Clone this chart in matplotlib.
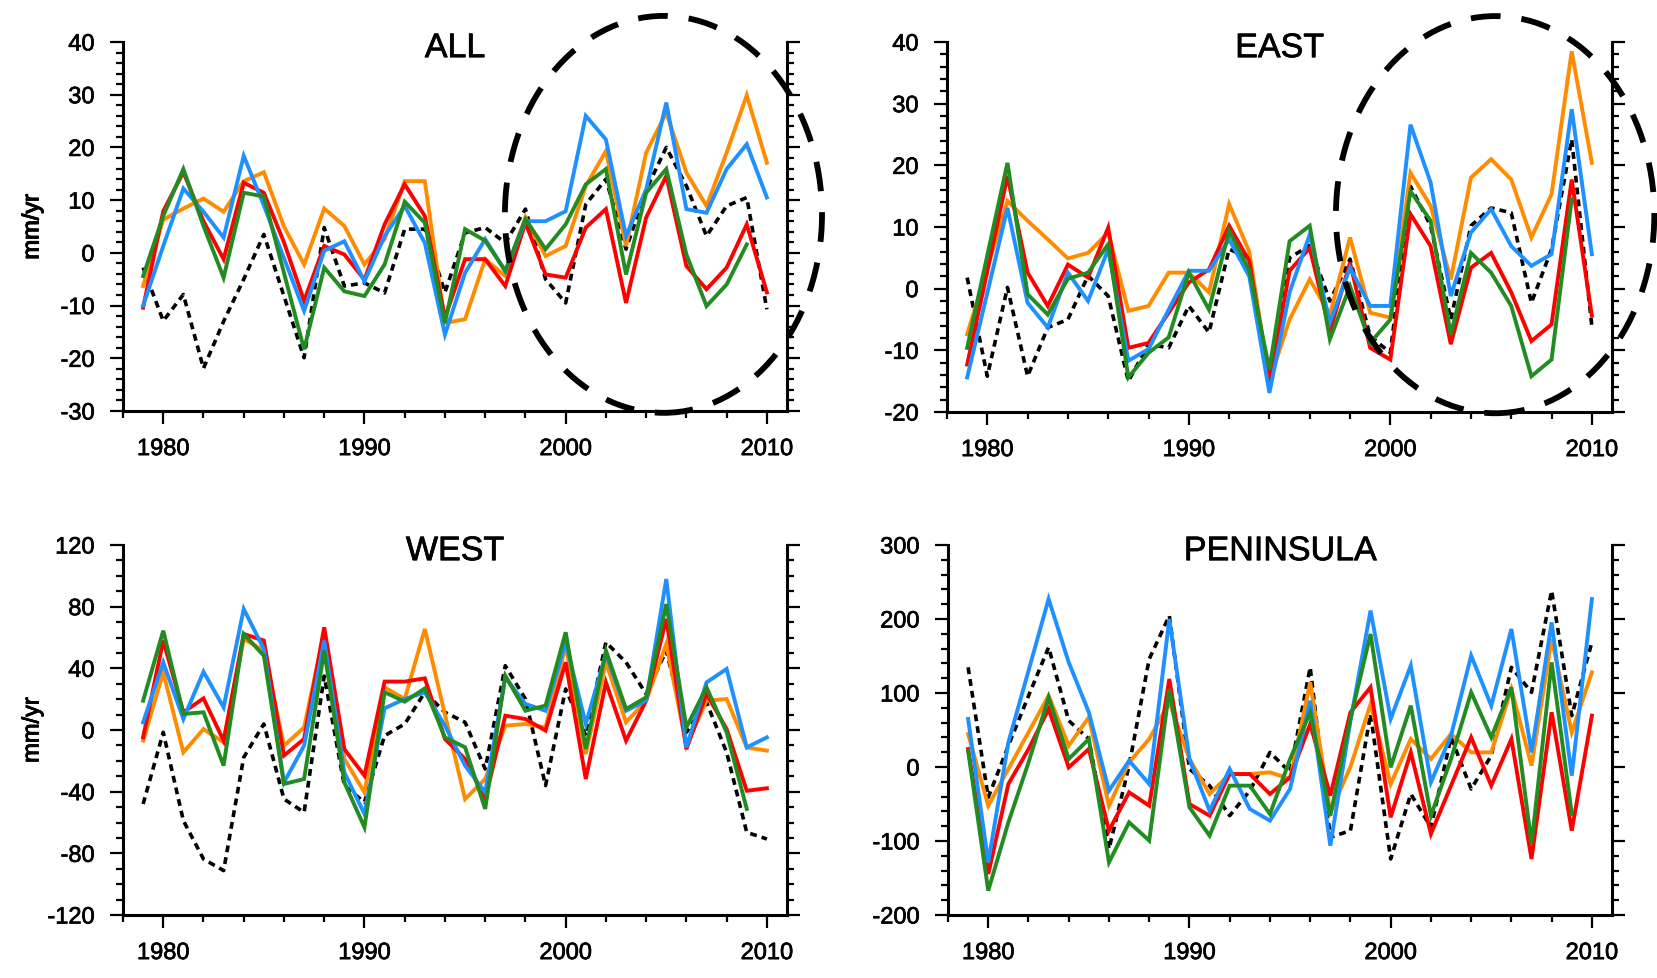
import numpy as np
import matplotlib.pyplot as plt
import matplotlib.patheffects as pe
from matplotlib.patches import Ellipse
from matplotlib.ticker import MultipleLocator

plt.rcParams['font.family'] = ['Liberation Sans', 'DejaVu Sans']
plt.rcParams['axes.unicode_minus'] = False

# years 1979-2010 (green series stops at 2009)
years = np.arange(1979, 2011)

# ---------------- ALL ----------------
all_orange = [-6.3, 6.3, 8.4, 10.3, 7.8, 13.6, 15.3, 5.0, -2.2, 8.4, 5.1, -2.2, 2.6, 13.6, 13.6, -13.3,
              -12.6, -1.2, -4.4, 6.7, -0.6, 1.3, 12.7, 19.3, 1.3, 19.0, 26.6, 15.2, 8.9, 19.0, 29.9, 17.1]
all_red = [-10.4, 7.9, 15.3, 6.0, -1.2, 13.3, 11.4, 2.0, -9.1, 1.3, -0.3, -5.1, 5.4, 13.0, 7.0, -12.3,
           -1.2, -1.2, -6.3, 5.7, -4.1, -4.7, 4.8, 8.3, -9.5, 6.7, 14.6, -2.5, -6.9, -2.8, 5.4, -7.5]
all_blue = [-10.0, 1.3, 12.2, 7.8, 2.9, 18.4, 9.0, -1.0, -11.0, 0.4, 2.2, -5.4, 3.2, 8.9, 1.9, -15.5,
            -3.8, 2.6, -3.5, 6.0, 6.0, 7.9, 26.0, 21.5, 3.2, 12.0, 28.5, 8.3, 7.6, 15.9, 20.6, 10.5]
all_green = [-4.4, 7.0, 15.9, 5.1, -4.7, 11.4, 10.7, -3.8, -18.3, -2.8, -7.3, -8.2, -2.2, 9.7, 5.7, -13.3,
             4.5, 2.3, -3.4, 6.4, 0.7, 5.4, 13.0, 15.9, -4.1, 11.4, 15.9, -0.3, -10.1, -6.0, 1.6]
all_black = [-2.8, -12.9, -7.9, -21.9, -13.0, -5.0, 3.5, -8.2, -19.9, 4.8, -6.3, -5.7, -7.6, 4.5, 4.5, -7.5,
             3.8, 4.8, 1.9, 8.3, -5.0, -9.5, 9.2, 14.0, 0.7, 12.0, 20.0, 12.7, 3.2, 8.9, 10.5, -10.7]

# ---------------- EAST ----------------
east_orange = [-7.4, 3.3, 14.2, 11.0, 8.0, 4.9, 5.8, 9.1, -3.6, -2.8, 2.6, 2.6, -0.6, 13.7, 6.0, -15.0,
               -5.0, 1.5, -4.2, 8.3, -3.9, -4.7, 18.8, 13.4, 1.5, 18.0, 21.0, 17.7, 8.3, 15.3, 38.5, 20.4]
east_red = [-12.3, 2.8, 18.3, 2.6, -2.8, 3.9, 1.8, 9.9, -9.6, -8.8, -3.9, 1.0, 3.1, 10.2, 4.5, -15.2,
            2.9, 6.6, -6.9, 4.2, -9.6, -11.5, 12.1, 6.9, -9.0, 3.4, 5.8, -0.6, -8.5, -5.8, 17.7, -4.4]
east_blue = [-14.4, -0.7, 13.1, -2.3, -6.3, 2.6, -2.0, 6.4, -11.7, -9.8, -3.4, 2.9, 2.9, 8.0, 2.0, -16.9,
             -0.6, 8.8, -5.5, 3.4, -2.8, -2.8, 26.6, 17.2, -1.2, 9.1, 12.9, 6.9, 3.7, 5.6, 29.1, 5.6]
east_green = [-9.6, 5.4, 20.4, -0.9, -4.2, 1.6, 2.6, 7.2, -14.4, -10.4, -7.9, 2.6, -3.4, 9.4, 3.0, -13.1,
              7.7, 10.2, -8.2, 0.4, -8.8, -5.0, 15.8, 11.0, -7.4, 5.8, 2.6, -2.8, -14.2, -11.5, 14.5]
east_black = [1.8, -14.2, 0.2, -14.2, -6.3, -5.0, 2.1, -1.2, -15.0, -9.0, -9.6, -2.8, -7.1, 6.4, 5.0, -14.7,
              5.0, 7.0, -2.0, 4.8, -7.7, -10.4, 16.6, 10.2, -5.0, 10.2, 13.1, 12.3, -2.3, 6.4, 24.2, -6.1]

# ---------------- WEST ----------------
west_orange = [-6.9, 37.4, -14.5, 0.6, -8.0, 59.0, 51.5, -10.2, 1.7, 63.4, -18.8, -40.4, 27.7, 20.1, 65.5, 10.0,
               -44.8, -31.8, 2.8, 3.9, 1.7, 54.7, -15.6, 43.9, 5.0, 19.0, 55.8, -10.2, 19.0, 20.1, -11.3, -13.4]
west_red = [-4.8, 58.0, 11.5, 20.5, -6.9, 62.3, 58.0, -16.6, -5.8, 66.6, -12.4, -29.6, 31.4, 31.4, 33.5, -5.8,
            -18.8, -44.8, 9.3, 7.1, -0.4, 43.9, -31.8, 30.9, -6.9, 19.0, 72.0, -12.4, 23.4, 0.6, -39.4, -37.8]
west_blue = [5.0, 43.9, 7.1, 37.8, 14.7, 78.5, 52.5, -34.0, -10.2, 58.0, -27.5, -54.5, 14.1, 20.1, 24.4, 2.8,
             -23.1, -40.4, 34.2, 16.9, 12.5, 56.9, 3.9, 49.3, 12.5, 19.0, 97.9, -11.3, 30.9, 39.6, -11.3, -4.8]
west_green = [19.0, 64.4, 10.4, 11.5, -23.1, 62.3, 48.2, -35.0, -31.8, 51.5, -34.0, -63.1, 24.5, 18.4, 27.0, -4.8,
              -11.2, -51.2, 35.2, 12.5, 15.8, 63.4, -12.3, 51.5, 13.6, 21.2, 81.7, 1.7, 27.7, -1.5, -51.2]
west_black = [-48.0, -1.5, -58.8, -83.7, -91.2, -17.7, 3.9, -44.8, -53.4, 35.0, -36.1, -46.9, -3.7, 3.9, 24.4, 11.5,
              5.0, -25.3, 41.7, 20.1, -36.1, 26.6, -3.7, 56.9, 43.9, 23.4, 51.5, -1.5, 18.0, -14.5, -66.4, -70.7]

# ---------------- PENINSULA ----------------
pen_orange = [44.6, -52.3, -2.7, 46.8, 96.4, 28.8, 67.1, -52.3, 6.3, 37.8, 87.4, 10.8, -36.5, -9.5, -9.5, -7.2,
              -16.2, 114.4, -61.3, 0.0, 85.1, -23.0, 37.8, 10.8, 44.6, 19.8, 19.8, 105.4, 1.8, 173.0, 46.8, 127.9]
pen_red = [24.3, -144.6, -23.0, 24.0, 78.4, -0.5, 24.3, -86.0, -34.2, -52.3, 118.9, -50.0, -65.8, -9.5, -9.5, -36.5,
           -14.0, 58.1, -38.7, 73.9, 107.7, -68.0, 19.8, -90.5, -25.2, 40.1, -25.2, 37.8, -124.3, 73.9, -86.0, 69.4]
pen_blue = [65.0, -128.8, 33.3, 130.0, 227.0, 141.4, 73.9, -32.0, 8.6, -23.0, 200.0, 10.8, -59.0, -2.7, -56.8, -72.5,
            -29.7, 89.6, -106.3, 62.0, 211.3, 65.0, 137.1, -20.7, 42.3, 150.5, 82.9, 186.5, 19.8, 195.5, -11.7, 227.0]
pen_green = [22.0, -167.1, -74.8, 6.0, 94.1, 10.8, 37.8, -128.8, -74.8, -99.5, 105.4, -54.5, -92.8, -25.2, -25.2, -63.5,
             10.8, 73.9, -65.8, 64.9, 179.7, -0.5, 82.9, -65.8, 10.8, 100.9, 40.1, 107.7, -104.0, 141.4, -63.5]
pen_black = [134.7, -41.0, 28.8, 96.0, 161.7, 62.6, 37.8, -110.8, 1.8, 146.0, 204.5, -2.7, -25.2, -65.8, -32.0, 19.8,
             -7.2, 134.7, -95.0, -86.0, 71.6, -124.3, -36.5, -81.5, 40.1, -29.7, 15.3, 134.7, 100.9, 238.3, 69.4, 168.5]

titles = ['ALL', 'EAST', 'WEST', 'PENINSULA']
ylims = [(-30, 40), (-20, 40), (-120, 120), (-200, 300)]
y_major = [10, 10, 40, 100]
y_minor = [2, 2, 10, 20]

series = [
    (all_black, all_orange, all_red, all_blue, all_green),
    (east_black, east_orange, east_red, east_blue, east_green),
    (west_black, west_orange, west_red, west_blue, west_green),
    (pen_black, pen_orange, pen_red, pen_blue, pen_green),
]
colors = ['black', '#ff8c00', '#ff0000', '#1e90ff', '#228b22']

# dashed ellipses (centre year, centre value, width in years, height in values)
ellipses = {0: (2004.86, 7.3, 15.76, 75.3), 1: (2005.2, 12.0, 15.8, 64.4)}

W, H = 1658, 979
# axes boxes in pixels: left, top, right, bottom
boxes = [(123, 43, 787, 412), (947, 43, 1612, 413), (123, 546, 787, 916), (948, 546, 1612, 916)]

# slightly heavier text
heavy = [pe.withStroke(linewidth=0.5, foreground='black')]

fig = plt.figure(figsize=(W / 100, H / 100), dpi=100)

for i, (l, t, r, b) in enumerate(boxes):
    ax = fig.add_axes([l / W, 1 - b / H, (r - l) / W, (b - t) / H])

    for k, (vals, col) in enumerate(zip(series[i], colors)):
        yrs = years[:len(vals)]
        if k == 0:
            ax.plot(yrs, vals, color=col, lw=2.6, ls=(0, (1.9, 1.4)), zorder=2)
        else:
            ax.plot(yrs, vals, color=col, lw=2.8, solid_joinstyle='miter', zorder=3 + k)

    ax.set_xlim(1978, 2011)
    ax.set_ylim(*ylims[i])
    ax.xaxis.set_major_locator(MultipleLocator(10))
    ax.xaxis.set_minor_locator(MultipleLocator(2))
    ax.yaxis.set_major_locator(MultipleLocator(y_major[i]))
    ax.yaxis.set_minor_locator(MultipleLocator(y_minor[i]))

    ax.spines['top'].set_visible(False)
    for s in ['left', 'right', 'bottom']:
        ax.spines[s].set_linewidth(2.2)
    ax.tick_params(which='both', direction='out', left=True, right=True, top=False,
                   labelright=False, width=1.6)
    ax.tick_params(which='major', length=9.5, labelsize=17)
    ax.tick_params(which='minor', length=5)
    ax.tick_params(axis='y', which='major', pad=11)
    ax.tick_params(axis='x', which='major', pad=10)
    for lab in ax.get_xticklabels() + ax.get_yticklabels():
        lab.set_path_effects(heavy)

    ax.text(0.5, 0.959, titles[i], transform=ax.transAxes, ha='center', va='baseline',
            fontsize=24.5, path_effects=heavy)
    ax.text((32.5 - l) / (r - l), 0.5, 'mm/yr', transform=ax.transAxes, rotation=90,
            ha='center', va='center', fontsize=17, path_effects=heavy)

    if i in ellipses:
        xc, yc, ew, eh = ellipses[i]
        ax.add_patch(Ellipse((xc, yc), ew, eh, fill=False, ec='black', lw=4.2,
                             ls=(0, (5.1, 3.6)), clip_on=False, zorder=10))

fig.savefig('out.png', dpi=100)
